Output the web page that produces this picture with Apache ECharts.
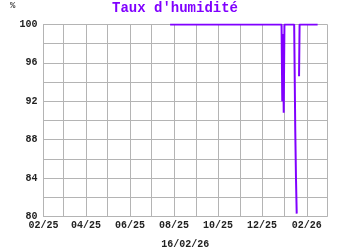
<!DOCTYPE html>
<html>
<head>
<meta charset="utf-8">
<script src="https://cdn.jsdelivr.net/npm/echarts@6/dist/echarts.min.js"></script>
<style>html,body{margin:0;padding:0;background:#fff;}#c{width:350px;height:250px;}</style>
</head>
<body>
<div id="c"></div>
<script>
var titleText = "Taux d'humidité";
var unitText = "%";
var dateText = "16/02/26";
var xMin = "2025-02-01T00:00:00";
var xMax = "2026-03-01T00:00:00";
var yMin = 80, yMax = 100;
var times = [
  "2025-07-26T12:00:00", "2025-10-01T00:00:00", "2025-12-28T00:00:00",
  "2025-12-29T00:00:00", "2025-12-30T00:00:00", "2025-12-31T00:00:00",
  "2026-01-01T00:00:00", "2026-01-14T12:00:00", "2026-01-16T00:00:00",
  "2026-01-17T00:00:00", "2026-01-18T00:00:00", "2026-01-19T12:00:00",
  "2026-01-21T06:00:00", "2026-01-22T00:00:00", "2026-02-16T00:00:00"
];
var humidity = [
  100, 100, 100,
  92, 99, 90.8,
  100, 100, 89,
  84, 80.3, null,
  94.6, 100, 100
];

var data = times.map(function (t, i) { return [t, humidity[i]]; });
var chart = echarts.init(document.getElementById('c'), null, {renderer: 'canvas'});
var labelFont = {fontFamily: 'Liberation Mono', fontWeight: 'bold', fontSize: 10, color: '#222'};
chart.setOption({
  animation: false,
  title: {
    text: titleText, left: 'center', top: 1, padding: 0,
    textStyle: {fontFamily: 'Liberation Mono', fontWeight: 'bold', fontSize: 14, color: '#8000ff'}
  },
  graphic: [{
    type: 'text', left: 10, top: 1,
    style: {text: unitText, fontFamily: 'Liberation Mono', fontWeight: 'bold', fontSize: 9, fill: '#444'}
  }],
  grid: {left: 43.5, right: 23, top: 24.5, bottom: 33.5, containLabel: false, outerBoundsMode: 'none'},
  xAxis: {
    type: 'time',
    min: xMin, max: xMax,
    splitNumber: 13,
    minInterval: 28 * 864e5, maxInterval: 31 * 864e5,
    name: dateText, nameLocation: 'middle', nameGap: 23,
    nameTextStyle: labelFont,
    axisLine: {show: true, lineStyle: {color: '#b4b4b4', width: 1}},
    axisTick: {show: false},
    splitLine: {show: true, lineStyle: {color: '#b4b4b4', width: 1}},
    axisLabel: Object.assign({
      margin: 4, hideOverlap: false, showMinLabel: true, showMaxLabel: true,
      formatter: function (v) {
        var d = new Date(v);
        var m = d.getMonth();
        if (m % 2 === 0) return '';
        var mm = ('0' + (m + 1)).slice(-2);
        var yy = ('' + d.getFullYear()).slice(-2);
        return mm + '/' + yy;
      }
    }, labelFont)
  },
  yAxis: {
    type: 'value', min: yMin, max: yMax, interval: 2,
    axisLine: {show: true, lineStyle: {color: '#b4b4b4', width: 1}},
    axisTick: {show: false},
    splitLine: {show: true, lineStyle: {color: '#b4b4b4', width: 1}},
    axisLabel: Object.assign({
      margin: 6,
      formatter: function (v) { return v % 4 === 0 ? String(v) : ''; }
    }, labelFont)
  },
  series: [{
    type: 'line', data: data, showSymbol: false, connectNulls: false,
    lineStyle: {color: '#8000ff', width: 2}, itemStyle: {color: '#8000ff'}
  }]
});
</script>
</body>
</html>
